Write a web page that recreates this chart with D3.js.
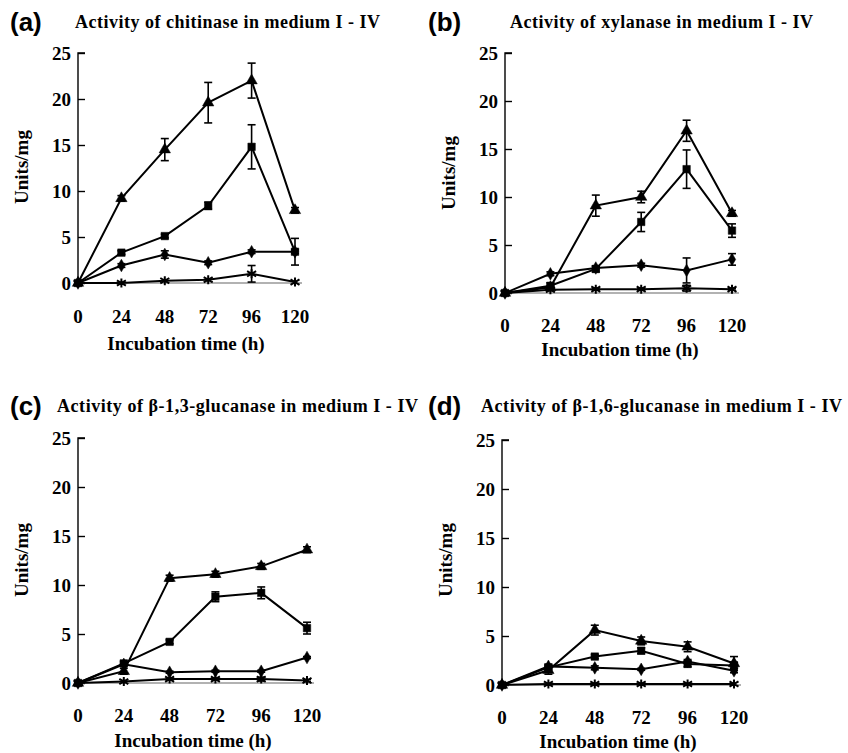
<!DOCTYPE html>
<html>
<head>
<meta charset="utf-8">
<script src="https://cdn.jsdelivr.net/npm/d3@7"></script>
<style>
  body { margin: 0; background: #fff; }
  text { font-family: "Liberation Serif", "Times New Roman", serif; font-weight: bold; fill: #000; }
  .tag { font-family: "Liberation Sans", Arial, sans-serif; font-size: 26px; }
</style>
</head>
<body>
<script>
// incubation hours
var hours = [0, 24, 48, 72, 96, 120];
var yTicks = [0, 5, 10, 15, 20, 25];

// (a) chitinase
var chitTri  = [0, 9.2, 14.5, 19.6, 22.0, 7.9];
var chitSq   = [0, 3.3, 5.1, 8.4, 14.8, 3.4];
var chitDia  = [0, 1.9, 3.1, 2.2, 3.4, 3.4];
var chitStar = [0, 0, 0.25, 0.35, 1.0, 0.1];
var chitTriErr  = [0, 0.3, 1.2, 2.2, 1.9, 0.3];
var chitSqErr   = [0, 0.2, 0.2, 0.4, 2.4, 1.45];
var chitDiaErr  = [0, 0.2, 0.4, 0.2, 0.2, 0.2];
var chitStarErr = [0, 0, 0, 0, 0.9, 0];

// (b) xylanase
var xylTri  = [0, 0.6, 9.1, 10.0, 16.9, 8.3];
var xylSq   = [0, 0.75, 2.5, 7.4, 12.9, 6.5];
var xylDia  = [0, 2.0, 2.6, 2.9, 2.35, 3.5];
var xylStar = [0, 0.35, 0.4, 0.4, 0.5, 0.4];
var xylTriErr  = [0, 0.2, 1.1, 0.6, 1.1, 0.3];
var xylSqErr   = [0, 0.3, 0.3, 1.0, 2.0, 0.7];
var xylDiaErr  = [0, 0.2, 0.2, 0.2, 1.3, 0.6];
var xylStarErr = [0, 0.1, 0.1, 0.1, 0.3, 0.1];

// (c) beta-1,3-glucanase
var g13Tri  = [0, 1.2, 10.7, 11.1, 11.9, 13.6];
var g13Sq   = [0, 2.0, 4.2, 8.8, 9.2, 5.6];
var g13Dia  = [0, 1.9, 1.1, 1.2, 1.2, 2.6];
var g13Star = [0, 0.15, 0.4, 0.4, 0.4, 0.25];
var g13TriErr  = [0, 0.3, 0.3, 0.3, 0.3, 0.3];
var g13SqErr   = [0, 0.2, 0.2, 0.5, 0.6, 0.6];
var g13DiaErr  = [0, 0.1, 0.1, 0.1, 0.1, 0.1];
var g13StarErr = [0, 0, 0.1, 0.1, 0.2, 0.1];

// (d) beta-1,6-glucanase
var g16Tri  = [0, 1.5, 5.6, 4.5, 3.9, 2.2];
var g16Sq   = [0, 1.8, 2.9, 3.5, 2.15, 2.0];
var g16Dia  = [0, 1.9, 1.75, 1.6, 2.4, 1.45];
var g16Star = [0, 0.1, 0.1, 0.1, 0.1, 0.1];
var g16TriErr  = [0, 0.4, 0.5, 0.4, 0.5, 0.7];
var g16SqErr   = [0, 0.2, 0.2, 0.3, 0.3, 0.3];
var g16DiaErr  = [0, 0.2, 0.2, 0.1, 0.2, 0.2];
var g16StarErr = [0, 0, 0, 0, 0, 0];

var titles = [
  "Activity of chitinase in medium I - IV",
  "Activity of xylanase in medium I - IV",
  "Activity of \u03b2-1,3-glucanase in medium I - IV",
  "Activity of \u03b2-1,6-glucanase in medium I - IV"
];
var tags = ["(a)", "(b)", "(c)", "(d)"];

var panels = [
  { series: [[chitTri, chitTriErr], [chitSq, chitSqErr], [chitDia, chitDiaErr], [chitStar, chitStarErr]],
    left: 78, right: 295, y0: 283, y25: 53, tickY: 323, labY: 350, labX: 186,
    titleX: 75, titleW: 305, titleY: 28, tagX: 10, tagY: 31, ylabX: 28, ylabY: 167 },
  { series: [[xylTri, xylTriErr], [xylSq, xylSqErr], [xylDia, xylDiaErr], [xylStar, xylStarErr]],
    left: 505, right: 732, y0: 293, y25: 53, tickY: 332, labY: 356, labX: 620,
    titleX: 510, titleW: 303, titleY: 28, tagX: 428, tagY: 31, ylabX: 455, ylabY: 173 },
  { series: [[g13Tri, g13TriErr], [g13Sq, g13SqErr], [g13Dia, g13DiaErr], [g13Star, g13StarErr]],
    left: 78, right: 307, y0: 683, y25: 438, tickY: 722, labY: 747, labX: 193,
    titleX: 57, titleW: 361, titleY: 412, tagX: 10, tagY: 415, ylabX: 28, ylabY: 560 },
  { series: [[g16Tri, g16TriErr], [g16Sq, g16SqErr], [g16Dia, g16DiaErr], [g16Star, g16StarErr]],
    left: 502, right: 734, y0: 685, y25: 440, tickY: 724, labY: 748, labX: 618,
    titleX: 481, titleW: 361, titleY: 412, tagX: 428, tagY: 415, ylabX: 452, ylabY: 560 }
];

var markers = ["tri", "sq", "dia", "star"];

function markerPath(kind) {
  if (kind == "tri") return d3.symbol().type(d3.symbolTriangle).size(56)();
  if (kind == "sq") return d3.symbol().type(d3.symbolSquare).size(56)();
  if (kind == "dia") return d3.symbol().type(d3.symbolDiamond).size(46)();
  // asterisk: vertical plus diagonal cross
  var r = 4.5;
  return "M0," + (-r) + "L0," + r +
    "M" + (-r) + "," + (-r * 0.6) + "L" + r + "," + (r * 0.6) +
    "M" + (-r) + "," + (r * 0.6) + "L" + r + "," + (-r * 0.6);
}

var svg = d3.select("body").append("svg")
  .attr("width", 848)
  .attr("height", 753);

panels.forEach(function(p, i) {
  var x = d3.scaleLinear().domain([0, 120]).range([p.left, p.right]);
  var y = d3.scaleLinear().domain([0, 25]).range([p.y0, p.y25]);
  var g = svg.append("g");

  // tag and title
  g.append("text").attr("class", "tag").attr("x", p.tagX).attr("y", p.tagY).text(tags[i]);
  g.append("text").attr("x", p.titleX).attr("y", p.titleY)
    .style("font-size", "18px")
    .attr("textLength", p.titleW).attr("lengthAdjust", "spacing")
    .text(titles[i]);

  // y axis, ticks pointing inward
  var yAxis = g.append("g")
    .attr("transform", "translate(" + p.left + ",0)")
    .call(d3.axisRight(y).tickValues(yTicks).tickSize(7).tickFormat(""));
  yAxis.select(".domain").attr("stroke", "#000").attr("stroke-width", 1.4).attr("d", "M0," + y(0) + "V" + y(25) + "H7");
  yAxis.selectAll(".tick line").attr("stroke-width", 1.4);
  g.selectAll(".ylab").data(yTicks).enter().append("text")
    .attr("x", p.left - 7).attr("y", function(d) { return y(d) + 6.5; })
    .attr("text-anchor", "end").style("font-size", "19px")
    .text(function(d) { return d; });

  // x axis line and labels
  g.append("line").attr("x1", p.left).attr("x2", x(120) + 7)
    .attr("y1", y(0)).attr("y2", y(0))
    .attr("stroke", "#666").attr("stroke-width", 1.2);
  g.selectAll(".xlab").data(hours).enter().append("text")
    .attr("x", function(d) { return x(d); }).attr("y", p.tickY)
    .attr("text-anchor", "middle").style("font-size", "19px")
    .text(function(d) { return d; });

  g.append("text").attr("x", p.labX).attr("y", p.labY)
    .attr("text-anchor", "middle").style("font-size", "19px")
    .text("Incubation time (h)");
  g.append("text")
    .attr("transform", "translate(" + p.ylabX + "," + p.ylabY + ") rotate(-90)")
    .attr("text-anchor", "middle").style("font-size", "19px")
    .text("Units/mg");

  var line = d3.line()
    .x(function(d, j) { return x(hours[j]); })
    .y(function(d) { return y(d); });

  // lines
  p.series.forEach(function(s) {
    g.append("path").datum(s[0])
      .attr("fill", "none").attr("stroke", "#000").attr("stroke-width", 2)
      .attr("d", line);
  });

  // error bars
  p.series.forEach(function(s) {
    var vals = s[0], errs = s[1];
    var eb = g.append("g").attr("stroke", "#000").attr("stroke-width", 1.6);
    hours.forEach(function(h, j) {
      if (!errs[j]) return;
      var cx = x(h), top = y(vals[j] + errs[j]), bot = y(Math.max(0, vals[j] - errs[j]));
      eb.append("line").attr("x1", cx).attr("x2", cx).attr("y1", top).attr("y2", bot);
      eb.append("line").attr("x1", cx - 4).attr("x2", cx + 4).attr("y1", top).attr("y2", top);
      eb.append("line").attr("x1", cx - 4).attr("x2", cx + 4).attr("y1", bot).attr("y2", bot);
    });
  });

  // markers
  p.series.forEach(function(s, k) {
    var kind = markers[k];
    g.selectAll(".m" + k).data(s[0]).enter().append("path")
      .attr("transform", function(d, j) { return "translate(" + x(hours[j]) + "," + y(d) + ")"; })
      .attr("d", markerPath(kind))
      .attr("fill", kind == "star" ? "none" : "#000")
      .attr("stroke", "#000")
      .attr("stroke-width", kind == "star" ? 2 : 0.5);
  });
});
</script>
</body>
</html>
